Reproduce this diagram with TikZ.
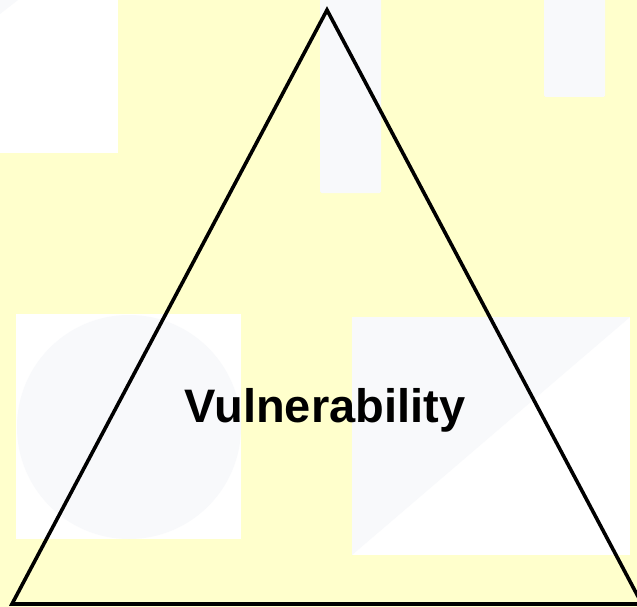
\documentclass[tikz,border=0pt]{standalone}
\usepackage{fontspec}
\setmainfont{Liberation Sans}
\definecolor{bgyellow}{HTML}{FFFFCC}
\definecolor{ghost}{HTML}{F8F9FB}
\tikzset{
  ph/.style={fill=white, draw=none},
  phg/.style={fill=ghost, draw=none},
  tri/.style={draw=black, line width=3.6pt, line join=miter},
}
\begin{document}
\begin{tikzpicture}[x=1pt,y=-1pt]
\useasboundingbox (0,0) rectangle (637,607);
\begin{scope}
\clip (0,0) rectangle (637,607);
\fill[bgyellow] (0,0) rectangle (637,607);
% top-left placeholder
\fill[ph] (0,0) rectangle (118,153);
\fill[phg] (0,0) -- (18,0) -- (0,14) -- cycle;
% top-middle placeholder
\fill[phg, rounded corners=1.5pt] (320,-5) rectangle (381,193);
% top-right placeholder
\fill[phg, rounded corners=1.5pt] (544,-5) rectangle (605,97);
% bottom-left placeholder
\fill[ph] (16,314) rectangle (241,539);
\fill[phg] (129,427) circle (112);
% bottom-right placeholder
\fill[ph] (352,317) rectangle (630,555);
\fill[phg] (352,317) -- (630,317) -- (352,555) -- cycle;
% triangle
\coordinate (apex) at (327,10);
\coordinate (bl) at (12,604);
\coordinate (br) at (642,604);
\draw[tri] (apex) -- (bl) -- (br) -- cycle;
\node[font=\bfseries\fontsize{47}{56}\selectfont, anchor=base] (lab) at (325,422) {Vulnerability};
\end{scope}
\end{tikzpicture}
\end{document}
